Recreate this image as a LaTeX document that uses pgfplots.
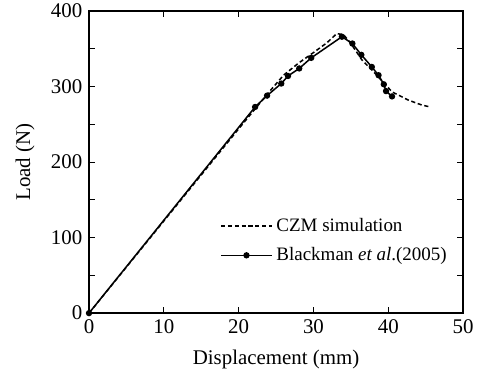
\documentclass[border=0pt]{standalone}
\usepackage{fontspec}
\setmainfont{Liberation Serif}
\usepackage{pgfplots}
\pgfplotsset{compat=1.18}
\begin{document}
\begin{tikzpicture}
\begin{axis}[
  scale only axis,
  width=196.3bp, height=158.5bp,
  xmin=0, xmax=50, ymin=0, ymax=400,
  xtick={0,10,...,50}, ytick={0,100,...,400},
  minor ytick={50,150,250,350},
  tick align=inside,
  major tick length=3bp, minor tick length=3bp,
  axis line style={line width=1.1pt},
  every tick/.style={black, line width=0.6pt},
  tick label style={font=\fontsize{11}{13}\selectfont},
  label style={font=\fontsize{11}{13}\selectfont},
  /pgf/number format/assume math mode=true,
  xlabel={Displacement (mm)},
  ylabel={Load (N)},
  xlabel style={at={(axis description cs:0.5,-0.152)}, anchor=center},
  ylabel style={at={(axis description cs:-0.171,0.5)}, anchor=center},
  legend style={draw=none, fill=none, at={(0.345,0.335)}, anchor=north west,
    font=\fontsize{10}{12}\selectfont, row sep=3pt, inner sep=1pt},
  legend cell align=left,
  legend image code/.code={\draw[mark repeat=2,mark phase=2,#1] plot coordinates {(0cm,0cm) (0.47cm,0cm) (0.94cm,0cm)};},
  clip=false,
]
\addplot[black, line width=0.8pt, dash pattern=on 2.2pt off 1.4pt] coordinates {
(0,0) (10,122) (20,244) (24,292) (26,315) (28,331) (30,345) (31.8,358) (33.1,370)
(34,369) (35,357) (36.5,335) (38,320) (39.4,305) (40.5,293) (42.7,282) (44.5,275.5) (45.6,273)
};
\addlegendentry{CZM simulation}
\addplot[black, line width=0.8pt, mark=*, mark size=1.25pt] coordinates {
(0,0) (22.2,273) (23.8,288) (25.7,304) (26.6,314) (28.1,324) (29.7,338)
(33.8,366) (35.2,357) (36.4,342) (37.8,326) (38.7,315) (39.4,303) (39.7,294) (40.5,287)
};
\addlegendentry{Blackman \textit{et al}.(2005)}
\end{axis}
\pgfresetboundingbox
\path[use as bounding box] ([shift={(-46.7bp,-29.4bp)}]current axis.south west) rectangle ([shift={(7.3bp,5.8bp)}]current axis.north east);
\end{tikzpicture}
\end{document}
